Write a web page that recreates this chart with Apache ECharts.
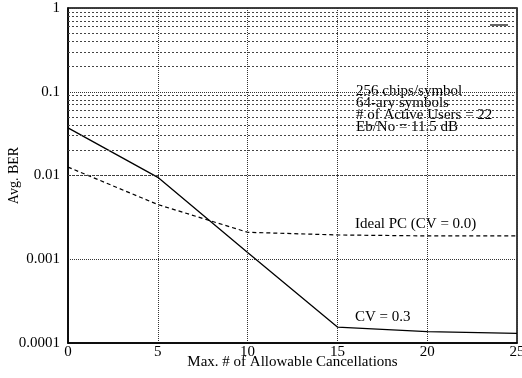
<!DOCTYPE html>
<html>
<head>
<meta charset="utf-8">
<script src="https://cdn.jsdelivr.net/npm/echarts@6/dist/echarts.min.js"></script>
<style>
  html, body { margin: 0; padding: 0; background: #fff; }
  #chart { width: 522px; height: 378px; }
</style>
</head>
<body>
<div id="chart"></div>
<script>
var xTicks = [0, 5, 10, 15, 20, 25];
var yTickLabels = ['0.0001', '0.001', '0.01', '0.1', '1'];
// CV = 0.3 (solid)
var cvX = [0, 5, 10, 15, 20, 25];
var cvBer = [0.037, 0.0095, 0.0012, 0.000155, 0.000137, 0.00013];
// Ideal PC (dashed)
var idealX = [0, 5, 10, 15, 20, 25];
var idealBer = [0.0126, 0.0045, 0.0021, 0.00195, 0.0019, 0.0019];
// minor log grid values
var decades = [0.0001, 0.001, 0.01, 0.1];
var minorSteps = [2, 3, 4, 5, 6, 7, 8, 9];
var minorGrid = [];
decades.forEach(function (d) {
    minorSteps.forEach(function (m) { minorGrid.push(+(d * m).toPrecision(3)); });
});

var serif = '"Liberation Serif", "DejaVu Serif", serif';
var chart = echarts.init(document.getElementById('chart'));
var option = {
    animation: false,
    grid: {
        left: 68, right: 5, top: 8, bottom: 35,
        outerBoundsMode: 'none',
        containLabel: false,
        show: true, borderColor: '#000', borderWidth: 1.5
    },
    xAxis: {
        type: 'value',
        min: 0, max: 25, interval: 5,
        name: 'Max. # of Allowable Cancellations',
        nameLocation: 'middle',
        nameGap: 12,
        nameMoveOverlap: false,
        nameTextStyle: { fontFamily: serif, fontSize: 15, color: '#000' },
        axisLine: { lineStyle: { color: '#000', width: 1.5 } },
        axisTick: { show: false },
        axisLabel: {
            fontFamily: serif, fontSize: 15, color: '#000', margin: 2,
            formatter: function (v) { return xTicks.indexOf(v) >= 0 ? String(v) : ''; }
        },
        splitLine: { show: true, lineStyle: { color: '#333', type: 'dotted', width: 1 } }
    },
    yAxis: {
        type: 'log',
        logBase: 10,
        min: 0.0001, max: 1,
        name: 'Avg. BER',
        nameLocation: 'middle',
        nameGap: 47,
        nameMoveOverlap: false,
        nameTextStyle: { fontFamily: serif, fontSize: 14, color: '#000' },
        axisLine: { lineStyle: { color: '#000', width: 1.5 } },
        axisTick: { show: false },
        axisLabel: {
            fontFamily: serif, fontSize: 15, color: '#000', margin: 8,
            formatter: function (v) {
                var i = Math.round(Math.log10(v)) + 4;
                return yTickLabels[i] || '';
            }
        },
        splitLine: { show: true, lineStyle: { color: '#333', type: 'dotted', width: 1 } }
    },
    series: [
        {
            name: 'grid',
            type: 'line',
            data: [],
            silent: true,
            markLine: {
                silent: true,
                symbol: 'none',
                label: { show: false },
                lineStyle: { color: '#444', type: [2, 2], width: 1 },
                data: minorGrid.map(function (v) { return { yAxis: v }; })
            }
        },
        {
            name: 'CV = 0.3',
            type: 'line',
            showSymbol: false,
            lineStyle: { color: '#000', width: 1.3 },
            data: cvX.map(function (x, i) { return [x, cvBer[i]]; })
        },
        {
            name: 'Ideal PC (CV = 0.0)',
            type: 'line',
            showSymbol: false,
            lineStyle: { color: '#000', width: 1.2, type: [4, 3] },
            data: idealX.map(function (x, i) { return [x, idealBer[i]]; })
        }
    ],
    graphic: [
        {
            type: 'text', left: 356, top: 84,
            style: {
                text: '256 chips/symbol\n64-ary symbols\n# of Active Users = 22\nEb/No = 11.5 dB',
                font: '15px ' + serif, fill: '#000', lineHeight: 12
            }
        },
        {
            type: 'text', left: 355, top: 217,
            style: { text: 'Ideal PC (CV = 0.0)', font: '15px ' + serif, fill: '#000' }
        },
        {
            type: 'text', left: 355, top: 310,
            style: { text: 'CV = 0.3', font: '15px ' + serif, fill: '#000' }
        },
        {
            type: 'line', shape: { x1: 490, y1: 25, x2: 508, y2: 25 },
            style: { stroke: '#000', lineWidth: 1.2 }
        }
    ]
};
chart.setOption(option);
</script>
</body>
</html>
